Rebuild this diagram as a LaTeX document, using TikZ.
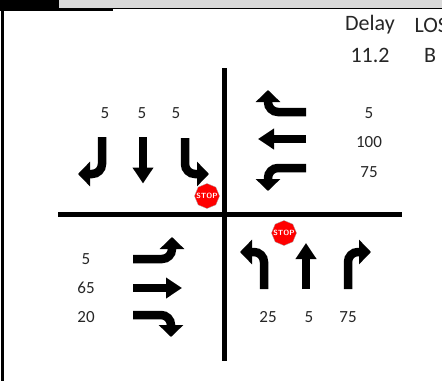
\documentclass[tikz,border=0pt]{standalone}
\usepackage{fontspec}
\setmainfont{Carlito}
\usetikzlibrary{arrows.meta,shapes.geometric}
\definecolor{topgray}{RGB}{217,217,217}
\definecolor{stopred}{RGB}{255,0,0}
\tikzset{
  roadline/.style={line width=5pt},
  turnarrow/.style={line width=8.5pt,rounded corners=10pt,-{Triangle[length=12pt,width=24pt]}},
  thruarrow/.style={line width=8.5pt,-{Triangle[length=16pt,width=20pt]}},
  volume/.style={font=\fontsize{17}{19}\selectfont,text=black!85},
  header/.style={font=\fontsize{22}{24}\selectfont,text=black!85},
  stopsign/.style={regular polygon,regular polygon sides=8,shape border rotate=22.5,
    minimum size=25pt,inner sep=0pt,fill=stopred,draw=gray!70,line width=0.3pt,
    label={[text=white,font=\fontsize{7.5}{8}\sffamily\bfseries]center:STOP}}
}
\begin{document}
\begin{tikzpicture}[x=1pt,y=-1pt]
  \useasboundingbox (0,0) rectangle (442,381);
  \clip (0,0) rectangle (442,381);
  % Sheet edge at the top and left
  \fill[topgray] (59,0) rectangle (442,8);
  \fill (0,0) rectangle (59,8);
  \fill (0,8) rectangle (113,11);
  \draw[line width=0.8pt] (0,8.2) -- (442,8.2);
  \fill (1,8) rectangle (4,381);
  % Header
  \node[header] (delayhead) at (370,25) {Delay};
  \node[header,anchor=west] (loshead) at (411,25) {LOS};
  \node[header] (delayval) at (370,55) {11.2};
  \node[header] (losval) at (430,55) {B};
  % Cross roads
  \draw[roadline] (224.5,68) -- (224.5,361);
  \draw[roadline] (58,214) -- (402,214);
  % North approach
  \node[volume] (nright) at (105,113) {5};
  \node[volume] (nthru) at (142,113) {5};
  \node[volume] (nleft) at (176,113) {5};
  \draw[turnarrow] (102,137) -- (102,174) -- (78,174);
  \draw[thruarrow] (143,137) -- (143,183.5);
  \draw[turnarrow] (185,138) -- (185,174) -- (209,174);
  \node[stopsign] (stopnorth) at (207,196) {};
  % East approach
  \node[volume] (eright) at (369,113) {5};
  \node[volume] (ethru) at (369,142) {100};
  \node[volume] (eleft) at (369,172) {75};
  \draw[turnarrow] (306,112) -- (268,112) -- (268,90);
  \draw[thruarrow] (306,139) -- (258,139);
  \draw[turnarrow] (306,168) -- (268,168) -- (268,191);
  % West approach
  \node[volume] (wleft) at (86,259) {5};
  \node[volume] (wthru) at (86,288) {65};
  \node[volume] (wright) at (86,317) {20};
  \draw[turnarrow] (133,259) -- (172,259) -- (172,237);
  \draw[thruarrow] (133,288) -- (182,288);
  \draw[turnarrow] (133,315) -- (171,315) -- (171,337);
  % South approach
  \node[volume] (sleft) at (268,317) {25};
  \node[volume] (sthru) at (309,317) {5};
  \node[volume] (sright) at (348,317) {75};
  \draw[turnarrow] (264,289) -- (264,252) -- (240,252);
  \draw[thruarrow] (306,289) -- (306,243);
  \draw[turnarrow] (348,289) -- (348,252) -- (371,252);
  \node[stopsign] (stopsouth) at (284,233) {};
\end{tikzpicture}
\end{document}
